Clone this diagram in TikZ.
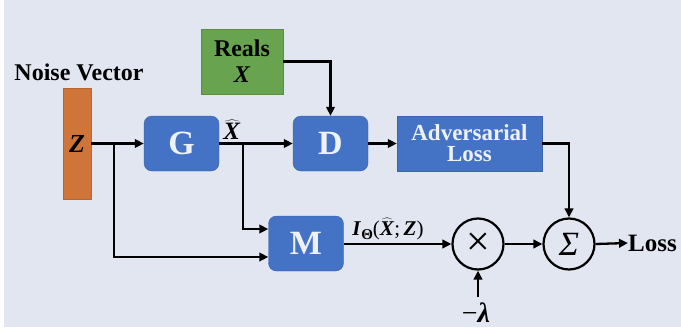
\documentclass[tikz,border=0pt]{standalone}
\usepackage{fontspec}
\setmainfont{Liberation Serif}
\usetikzlibrary{arrows.meta}
\definecolor{bg}{HTML}{E1E6F0}
\definecolor{blu}{HTML}{4472C4}
\definecolor{bluedge}{HTML}{3A64AE}
\definecolor{grn}{HTML}{68A350}
\definecolor{grnedge}{HTML}{5A8E45}
\definecolor{org}{HTML}{D0753A}
\definecolor{orgedge}{HTML}{B9652F}
\definecolor{boxtext}{HTML}{EEF1F8}
\newcommand\bi[1]{\textbf{\textit{#1}}}
\newcommand\fsz[1]{\fontsize{#1}{#1}\selectfont}
\begin{document}
\begin{tikzpicture}[x=1pt,y=-1pt,
  blk/.style={draw=bluedge, fill=blu, rounded corners=8pt, minimum width=75pt, minimum height=55pt, inner sep=0pt, text=boxtext, font=\fsz{34}\bfseries},
  conn/.style={line width=2.3pt, -{Triangle[length=9pt,width=8.5pt]}},
  circ/.style={circle, draw, line width=2.2pt, minimum size=51pt, inner sep=0pt},
  lbl/.style={font=\fsz{24}\bfseries, inner sep=0pt}
]
\useasboundingbox (0,0) rectangle (681,335);
\fill[bg] (4,0) rectangle (681,327);

\node[lbl] (nv) at (79,72) {Noise Vector};
\node[draw=orgedge, fill=org, minimum width=28pt, minimum height=111pt, inner sep=0pt, font=\fsz{26}] (Z) at (77,143.5) {\bi{Z}};
\node[blk] (G) at (181.5,143.5) {G};
\node[blk] (D) at (330.5,143.5) {D};
\node[blk] (M) at (306,243.5) {M};
\node[draw=grnedge, fill=grn, minimum width=82pt, minimum height=65pt, inner sep=0pt, align=center, font=\fsz{24}\bfseries] (R) at (242,61.5) {Reals\\[2pt]\bi{X}};
\node[draw=bluedge, fill=blu, minimum width=145pt, minimum height=55pt, inner sep=0pt, align=center, text=boxtext, font=\fsz{23}\bfseries] (A) at (469.5,143.5) {Adversarial\\[-2pt]Loss};
\node[circ] (T) at (478,244) {\fsz{42}×};
\node[circ] (S) at (569,244) {\fsz{34}\textit{Σ}};
\node[lbl, anchor=west, font=\fsz{25}\bfseries] (L) at (628,243) {Loss};
\node[font=\fsz{28}, inner sep=0pt] (lam) at (476,313) {−\bi{λ}};
\node[font=\fsz{25}, inner sep=0pt] (xh) at (232,130) {$\widehat{\mbox{\bi{X}}}$};
\node[font=\fsz{21}, inner sep=0pt] (il) at (388,229) {\bi{I}\raisebox{-4pt}{\fsz{15}\textbf{Θ}}(\hbox{$\widehat{\mbox{\bi{X}}}$};\,\bi{Z})};

\coordinate (b1) at (114,143.5);
\coordinate (b2) at (243,143.5);
\coordinate (lt) at (478,297);

\draw[conn] (Z.east) -- (G.west);
\draw[conn] (G.east) -- (D.west);
\draw[conn] (b1) |- ([yshift=-13.5pt]M.west);
\draw[conn] (b2) |- ([yshift=14.5pt]M.west);
\draw[conn] (R.east) -| (D.north);
\draw[conn] (D.east) -- (A.west);
\draw[conn] (A.east) -| (S.north);
\draw[conn] (M.east |- T.west) -- (T.west);
\draw[conn] (T.east) -- (S.west);
\draw[conn] (S.east) -- (L.west);
\draw[conn] (lt) -- (T.south);
\end{tikzpicture}
\end{document}
